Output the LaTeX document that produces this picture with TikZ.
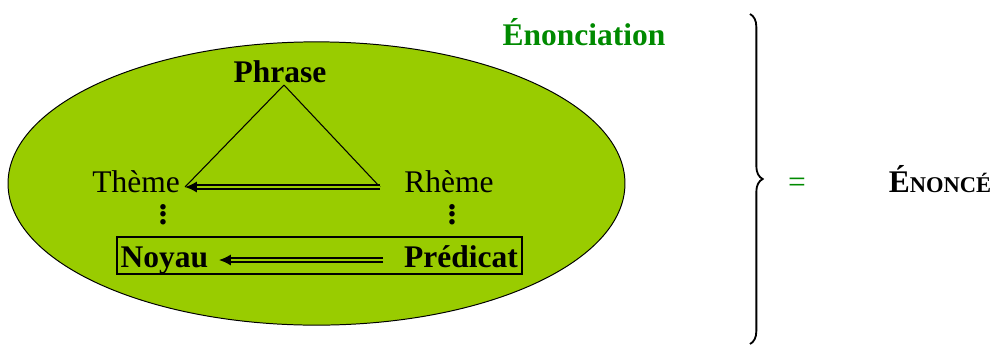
\documentclass[tikz,border=0pt]{standalone}
\usepackage{fontspec}
\setmainfont{Liberation Serif}
\usetikzlibrary{arrows.meta,decorations.pathreplacing}
\definecolor{lime}{HTML}{99CC00}
\definecolor{grn}{HTML}{008A00}
\newcommand{\vdotsb}{\vbox{\baselineskip5.3pt\lineskiplimit0pt\hbox{.}\hbox{.}\hbox{.}}}
\tikzset{
  lbl/.style={inner sep=0pt, anchor=base, font=\fontsize{22.4}{26}\selectfont},
  blbl/.style={lbl, font=\fontsize{22.4}{26}\selectfont\bfseries},
  vdot/.style={inner sep=0pt, anchor=base, font=\fontsize{24}{26}\selectfont\bfseries},
  edge/.style={line width=0.75pt},
  dbl/.style={double=lime, double distance=1.5pt, line width=1.05pt, -{Latex[length=8.5pt,width=8pt]}},
}
\begin{document}
\begin{tikzpicture}[x=0.025cm, y=-0.025cm]
  \useasboundingbox (0,0) rectangle (1000,344);
  % the utterance
  \draw[fill=lime, line width=0.7pt] (316.5,183.5) ellipse [x radius=7.71cm, y radius=3.54cm];
  \node[blbl, text=grn] (enc) at (584,45) {Énonciation};
  \node[blbl] (phr) at (280,82) {Phrase};
  \node[lbl] (th) at (136,192) {Thème};
  \node[lbl] (rh) at (449,192) {Rhème};
  \node[vdot] (d1) at (163,224) {\vdotsb};
  \node[vdot] (d2) at (452,224) {\vdotsb};
  \node[blbl] (ny) at (164.5,267) {Noyau};
  \node[blbl] (pd) at (461,267) {Prédicat};
  \coordinate (apex) at (284,85);
  \coordinate (tl) at (185,187);
  \coordinate (tr) at (380,187);
  \coordinate (nl) at (219,260);
  \coordinate (nr) at (383,260);
  \draw[edge] (apex) -- (tl);
  \draw[edge] (apex) -- (tr);
  \draw[dbl] (tr) -- (tl);
  \draw[dbl] (nr) -- (nl);
  \draw[line width=1.4pt] (117,237) rectangle (522,274);
  % right-hand side
  \draw[line width=1.3pt, decorate, decoration={brace, amplitude=9pt}] (750,14) -- (750,344);
  \node[lbl, text=grn] (eq) at (797,192) {=};
  \node[lbl] (enon) at (940,192) {\bfseries É{\fontsize{16}{20}\selectfont NONCÉ}};
\end{tikzpicture}
\end{document}
